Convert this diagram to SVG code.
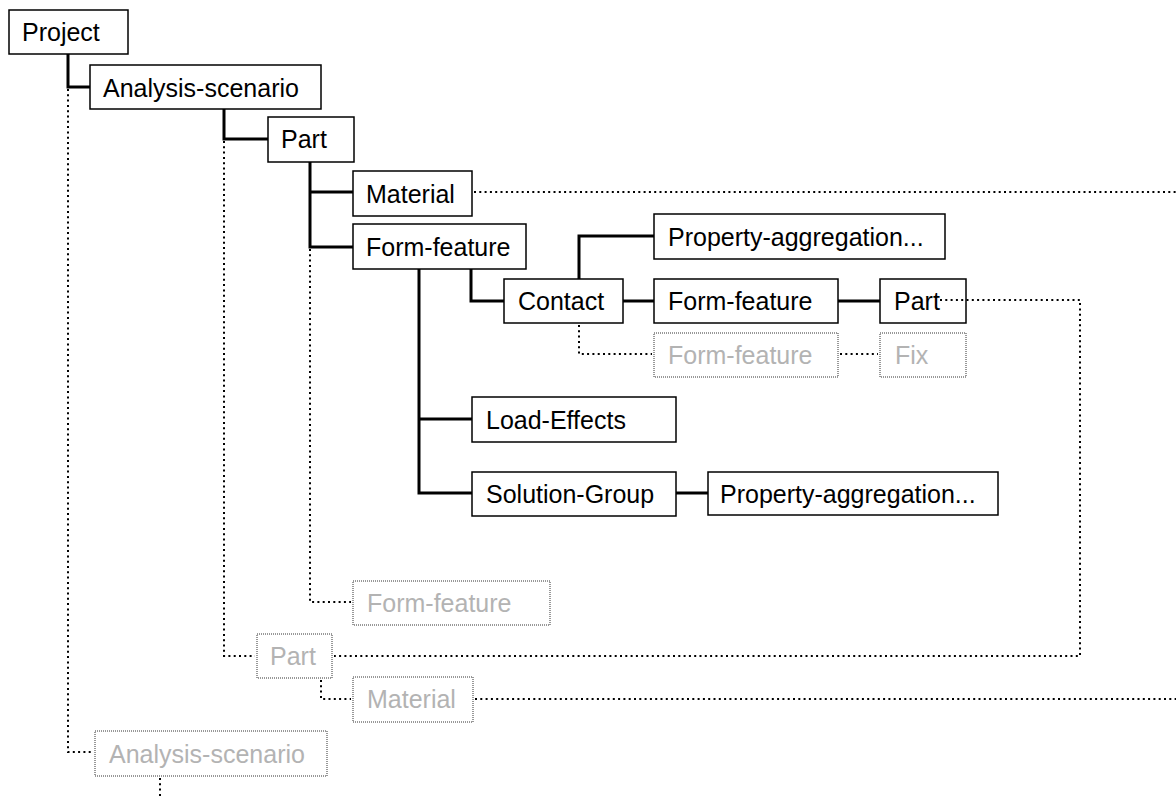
<svg xmlns="http://www.w3.org/2000/svg" width="1176" height="799" viewBox="0 0 1176 799">
<style>
  .box { fill: #fff; stroke: #000; stroke-width: 1.5; }
  .ghost { fill: #fff; stroke: #333; stroke-width: 1; stroke-dasharray: 1 1; }
  .t { font-family: "Liberation Sans", Arial, sans-serif; font-size: 25px; fill: #000; }
  .gt { font-family: "Liberation Sans", Arial, sans-serif; font-size: 25px; fill: #b3b3b3; }
  .solid { fill: none; stroke: #000; stroke-width: 3; }
  .dot { fill: none; stroke: #000; stroke-width: 2; stroke-dasharray: 2 3.3; }
</style>
<rect width="1176" height="799" fill="#fff"/>
<g id="project"><rect class="box" x="9" y="10" width="119" height="44"/><text class="t" x="22" y="41">Project</text></g>
<g id="analysis-scenario"><rect class="box" x="90" y="65" width="231" height="44"/><text class="t" x="103" y="97">Analysis-scenario</text></g>
<g id="part"><rect class="box" x="268" y="117" width="86" height="45"/><text class="t" x="281" y="148">Part</text></g>
<g id="material"><rect class="box" x="353" y="171" width="119" height="45"/><text class="t" x="366" y="203">Material</text></g>
<g id="form-feature"><rect class="box" x="353" y="224" width="173" height="45"/><text class="t" x="366" y="256">Form-feature</text></g>
<g id="contact"><rect class="box" x="504" y="279" width="119" height="44"/><text class="t" x="518" y="310">Contact</text></g>
<g id="property-aggregation-1"><rect class="box" x="654" y="214" width="291" height="45"/><text class="t" x="668" y="246">Property-aggregation...</text></g>
<g id="form-feature-2"><rect class="box" x="654" y="279" width="184" height="44"/><text class="t" x="668" y="310">Form-feature</text></g>
<g id="part-2"><rect class="box" x="880" y="279" width="86" height="44"/><text class="t" x="894" y="310">Part</text></g>
<g id="ghost-form-feature-2"><rect class="ghost" x="654" y="333" width="184" height="44"/><text class="gt" x="668" y="364">Form-feature</text></g>
<g id="ghost-fix"><rect class="ghost" x="880" y="333" width="86" height="44"/><text class="gt" x="895" y="364">Fix</text></g>
<g id="load-effects"><rect class="box" x="472" y="397" width="204" height="45"/><text class="t" x="486" y="429">Load-Effects</text></g>
<g id="solution-group"><rect class="box" x="472" y="472" width="204" height="44"/><text class="t" x="486" y="503">Solution-Group</text></g>
<g id="property-aggregation-2"><rect class="box" x="708" y="472" width="290" height="43"/><text class="t" x="720" y="503">Property-aggregation...</text></g>
<g id="ghost-form-feature"><rect class="ghost" x="353" y="581" width="197" height="44"/><text class="gt" x="367" y="612">Form-feature</text></g>
<g id="ghost-part"><rect class="ghost" x="257" y="634" width="75" height="44"/><text class="gt" x="270" y="665">Part</text></g>
<g id="ghost-material"><rect class="ghost" x="353" y="677" width="120" height="45"/><text class="gt" x="367" y="708">Material</text></g>
<g id="ghost-analysis-scenario"><rect class="ghost" x="95" y="731" width="232" height="45"/><text class="gt" x="109" y="763">Analysis-scenario</text></g>
<g id="connectors">
  <path class="dot" d="M68,89 V752 H93"/>
  <path class="dot" d="M224,141 V656 H255"/>
  <path class="dot" d="M310,249 V602 H351"/>
  <path class="dot" d="M474,192 H1176"/>
  <path class="dot" d="M579,325 V354 H652"/>
  <path class="dot" d="M840,354 H878"/>
  <path class="dot" d="M940,300 H1080 V656 H334"/>
  <path class="dot" d="M321,680 V699 H351"/>
  <path class="dot" d="M475,699 H1176"/>
  <path class="dot" d="M160,778 V799"/>
  <path class="solid" d="M68,54 V87 H90"/>
  <path class="solid" d="M224,109 V139 H268"/>
  <path class="solid" d="M310,162 V247 H353 M310,192 H353"/>
  <path class="solid" d="M471,269 V301 H504"/>
  <path class="solid" d="M419,269 V493 H472 M419,419 H472"/>
  <path class="solid" d="M579,279 V236 H654"/>
  <path class="solid" d="M623,301 H654"/>
  <path class="solid" d="M838,301 H880"/>
  <path class="solid" d="M676,493 H708"/>
</g>
</svg>
